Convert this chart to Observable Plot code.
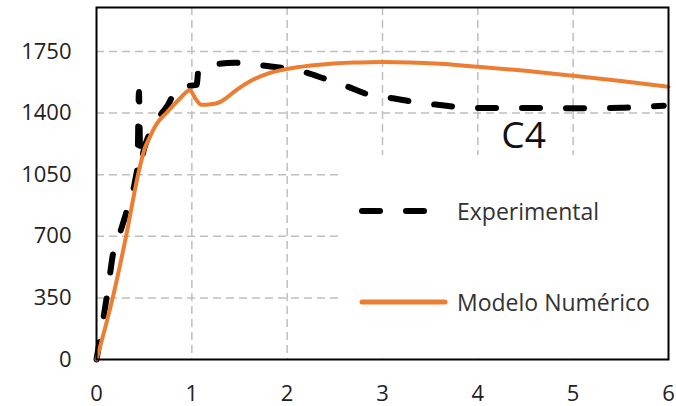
<!DOCTYPE html>
<html>
<head>
<meta charset="utf-8">
<script src="https://cdn.jsdelivr.net/npm/d3@7"></script>
<script src="https://cdn.jsdelivr.net/npm/@observablehq/plot@0.6"></script>
<style>
  html, body { margin: 0; padding: 0; background: #fff; }
  #chart { position: relative; width: 676px; height: 406px; font-family: "Open Sans", sans-serif; }
  #legend { position: absolute; left: 342px; top: 155px; width: 324px; height: 200px; background: #fff; }
  .item { position: absolute; display: flex; align-items: center; font-size: 23px; color: #333; }
  .item svg { display: block; margin-right: 8px; }
</style>
</head>
<body>
<div id="chart"><div id="legend"></div></div>
<script>
// Experimental load–displacement curve (dashed black)
const expX = [0, 0.05, 0.12, 0.18, 0.24, 0.31, 0.41, 0.43, 0.445, 0.46, 0.5, 0.6, 0.75, 0.86, 1.05, 1.07, 1.22, 1.45, 1.7, 1.95, 2.13, 2.4, 2.64, 2.87, 3.11, 3.34, 3.6, 3.85, 4.1, 4.5, 5.0, 5.5, 5.79, 5.95];
const expY = [0, 160, 400, 620, 710, 830, 1030, 1100, 1520, 1120, 1200, 1330, 1447, 1549, 1560, 1645, 1674, 1686, 1674, 1657, 1640, 1594, 1549, 1503, 1484, 1463, 1446, 1432, 1429, 1429, 1428, 1430, 1438, 1442];

// Numerical model curve (orange)
const numX = [0, 0.17, 0.31, 0.44, 0.5, 0.56, 0.62, 0.74, 0.87, 0.98, 1.04, 1.1, 1.2, 1.3, 1.47, 1.64, 1.82, 2.1, 2.4, 2.7, 3.0, 3.6, 4.0, 4.5, 5.0, 5.5, 6.0];
const numY = [0, 350, 700, 1060, 1190, 1265, 1330, 1405, 1480, 1530, 1480, 1447, 1450, 1464, 1532, 1589, 1628, 1660, 1678, 1687, 1691, 1680, 1663, 1640, 1612, 1582, 1549];

const xTicks = [0, 1, 2, 3, 4, 5, 6];
const yTicks = [0, 350, 700, 1050, 1400, 1750];
const seriesNames = ["Experimental", "Modelo Numérico"];
const annotations = [{x: 4.48, y: 1268, text: "C4"}];

const expData = expX.map((x, i) => ({x, y: expY[i]}));
const numData = numX.map((x, i) => ({x, y: numY[i]}));

const ORANGE = "#ED7D31";
const GRID = "#bfbfbf";

const plot = Plot.plot({
  width: 676,
  height: 406,
  marginLeft: 96,
  marginRight: 8,
  marginTop: 7,
  marginBottom: 47,
  style: {fontFamily: "Open Sans, sans-serif", fontSize: "22px", color: "#222", background: "#fff"},
  x: {domain: [0, 6], label: null},
  y: {domain: [0, 2000], label: null},
  marks: [
    Plot.gridX(xTicks.slice(1, -1), {stroke: GRID, strokeOpacity: 1, strokeWidth: 1.5, strokeDasharray: "8,5"}),
    Plot.gridY(yTicks.slice(1), {stroke: GRID, strokeOpacity: 1, strokeWidth: 1.5, strokeDasharray: "8,5"}),
    Plot.axisX(xTicks, {tickSize: 0, tickPadding: 26, fontSize: 22, label: null, tickFormat: d => String(d)}),
    Plot.axisY(yTicks, {tickSize: 0, tickPadding: 25, fontSize: 22, label: null, tickFormat: d => String(d)}),
    Plot.line(expData, {x: "x", y: "y", stroke: "black", strokeWidth: 6, strokeDasharray: "18,26", strokeLinecap: "round", curve: "monotone-x"}),
    Plot.line(numData, {x: "x", y: "y", stroke: ORANGE, strokeWidth: 4, curve: "monotone-x"}),
    Plot.text(annotations, {x: "x", y: "y", text: "text", fontSize: 37, fill: "#111"}),
    Plot.frame({stroke: "black", strokeWidth: 2})
  ]
});
const chart = document.getElementById("chart");
chart.insertBefore(plot, chart.firstChild);

// Legend drawn as an opaque box inside the plot area
const legend = document.getElementById("legend");
const items = [
  {name: seriesNames[0], top: 56, stroke: "black", width: 6, dash: "18,26", x2: 70},
  {name: seriesNames[1], top: 147, stroke: ORANGE, width: 5, dash: null, x2: 87}
];
for (const it of items) {
  const row = document.createElement("div");
  row.className = "item";
  row.style.top = (it.top - 15) + "px";
  row.style.left = "16px";
  row.style.height = "30px";
  const s = d3.create("svg").attr("width", 91).attr("height", 30);
  s.append("line").attr("x1", 4).attr("x2", it.x2).attr("y1", 15).attr("y2", 15)
    .attr("stroke", it.stroke).attr("stroke-width", it.width).attr("stroke-linecap", "round")
    .attr("stroke-dasharray", it.dash);
  row.appendChild(s.node());
  const t = document.createElement("span");
  t.textContent = it.name;
  row.appendChild(t);
  legend.appendChild(row);
}
</script>
</body>
</html>
